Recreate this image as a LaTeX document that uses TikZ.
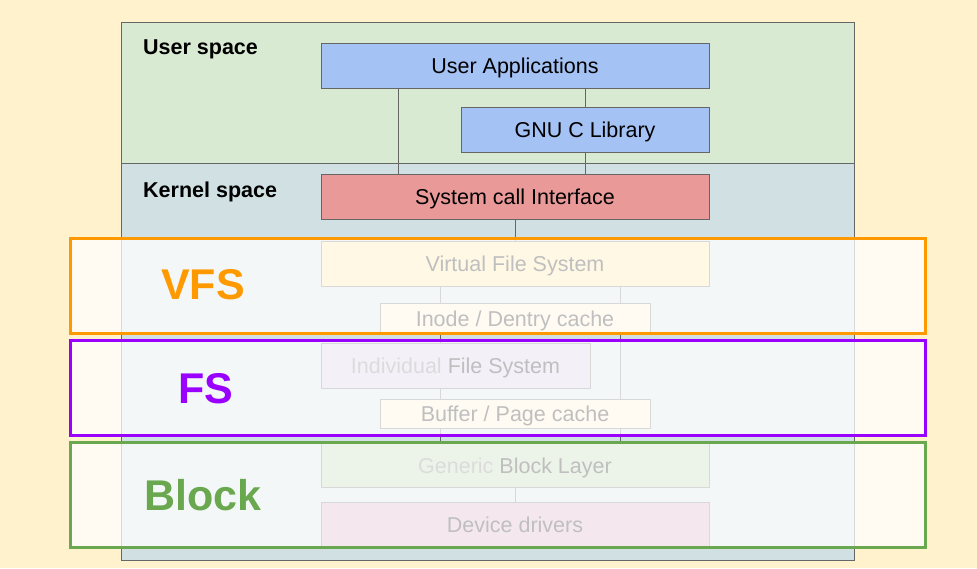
\documentclass[tikz,border=0pt]{standalone}
\usepackage{fontspec}
\setmainfont{Liberation Sans}
\definecolor{bgyellow}{HTML}{FFF2CC}
\definecolor{usergreen}{HTML}{D9EAD3}
\definecolor{kernelblue}{HTML}{D0E0E3}
\definecolor{appblue}{HTML}{A4C2F4}
\definecolor{sysred}{HTML}{EA9999}
\definecolor{vfsyellow}{HTML}{FFE599}
\definecolor{fslilac}{HTML}{D0C7E6}
\definecolor{cachecream}{HTML}{FFF2CC}
\definecolor{blockgreen}{HTML}{B6D7A8}
\definecolor{drvpink}{HTML}{D5A6BD}
\definecolor{edgegray}{HTML}{666666}
\definecolor{vfsorange}{HTML}{FF9900}
\definecolor{fspurple}{HTML}{9900FF}
\definecolor{blkgreen}{HTML}{6AA84F}
\tikzset{
  region/.style={draw=edgegray, line width=1pt, anchor=north west, inner sep=0pt},
  layerbox/.style={draw=edgegray, line width=0.8pt, inner sep=0pt, font=\fontsize{21.5}{25}\selectfont, text=black, text height=16pt, text depth=0pt},
  conn/.style={draw=edgegray, line width=1pt},
  hilite/.style={line width=3pt, fill=white, fill opacity=0.75, inner sep=0pt},
  hilabel/.style={font=\fontsize{43}{50}\selectfont\bfseries},
  spacelabel/.style={font=\fontsize{21.5}{25}\selectfont\bfseries, anchor=west, inner sep=0pt}
}
\begin{document}
\begin{tikzpicture}[x=1pt,y=-1pt]
\useasboundingbox (0,0) rectangle (977,568);
\fill[bgyellow] (0,0) rectangle (977,568);
% regions
\node[region, fill=usergreen, minimum width=733pt, minimum height=141pt] (user) at (121,22) {};
\node[region, fill=kernelblue, minimum width=733pt, minimum height=397pt] (kernel) at (121,163) {};
\node[spacelabel] (userlbl) at (143,49) {User space};
\node[spacelabel] (kernellbl) at (143,192) {Kernel space};
% named helper coordinates
\coordinate (cx1) at (398,0);
\coordinate (cx2) at (440,0);
\coordinate (cx3) at (620,0);
% box positions
\path
  (515,65.5) coordinate (pUA)
  (585,129.5) coordinate (pGNU)
  (515,196.5) coordinate (pSCI)
  (515,263.5) coordinate (pVFS)
  (515,318) coordinate (pINO)
  (455.5,365.5) coordinate (pIFS)
  (515,413.5) coordinate (pBUF)
  (515,465) coordinate (pGBL)
  (515,524.5) coordinate (pDD);
% boxes spanning the long connectors, then the connectors behind the middle boxes
\node[layerbox, fill=vfsyellow, minimum width=388pt, minimum height=45pt] (VFS) at (pVFS) {Virtual File System};
\node[layerbox, fill=blockgreen, minimum width=388pt, minimum height=44pt] (GBL) at (pGBL) {\textcolor{black!55}{Generic} Block Layer};
\draw[conn] (cx2 |- VFS.south) -- (cx2 |- GBL.north);
\draw[conn] (cx3 |- VFS.south) -- (cx3 |- GBL.north);
\node[layerbox, fill=appblue, minimum width=388pt, minimum height=45pt] (UA) at (pUA) {User Applications};
\node[layerbox, fill=appblue, minimum width=248pt, minimum height=45pt] (GNU) at (pGNU) {GNU C Library};
\node[layerbox, fill=sysred, minimum width=388pt, minimum height=45pt] (SCI) at (pSCI) {System call Interface};
\node[layerbox, fill=cachecream, minimum width=270pt, minimum height=30pt] (INO) at (pINO) {Inode / Dentry cache};
\node[layerbox, fill=fslilac, minimum width=269pt, minimum height=45pt] (IFS) at (pIFS) {\textcolor{black!55}{Individual} File System};
\node[layerbox, fill=cachecream, minimum width=270pt, minimum height=29pt] (BUF) at (pBUF) {Buffer / Page cache};
\node[layerbox, fill=drvpink, minimum width=388pt, minimum height=45pt] (DD) at (pDD) {Device drivers};
% connectors
\draw[conn] (cx1 |- UA.south) -- (cx1 |- SCI.north);
\draw[conn] (GNU.north) -- (GNU.north |- UA.south);
\draw[conn] (GNU.south) -- (GNU.south |- SCI.north);
\draw[conn] (SCI.south) -- (VFS.north);
\draw[conn] (GBL.south) -- (DD.north);
% highlight frames
\node[hilite, draw=vfsorange, minimum width=855pt, minimum height=95pt] (vfsframe) at (497.5,285.5) {};
\node[hilite, draw=fspurple, minimum width=855pt, minimum height=95pt] (fsframe) at (497.5,387.5) {};
\node[hilite, draw=blkgreen, minimum width=855pt, minimum height=105pt] (blkframe) at (497.5,494.5) {};
\node[hilabel, text=vfsorange] (vfslbl) at (203,285) {VFS};
\node[hilabel, text=fspurple] (fslbl) at (206,389) {FS};
\node[hilabel, text=blkgreen] (blklbl) at (203,495) {Block};
\end{tikzpicture}
\end{document}
